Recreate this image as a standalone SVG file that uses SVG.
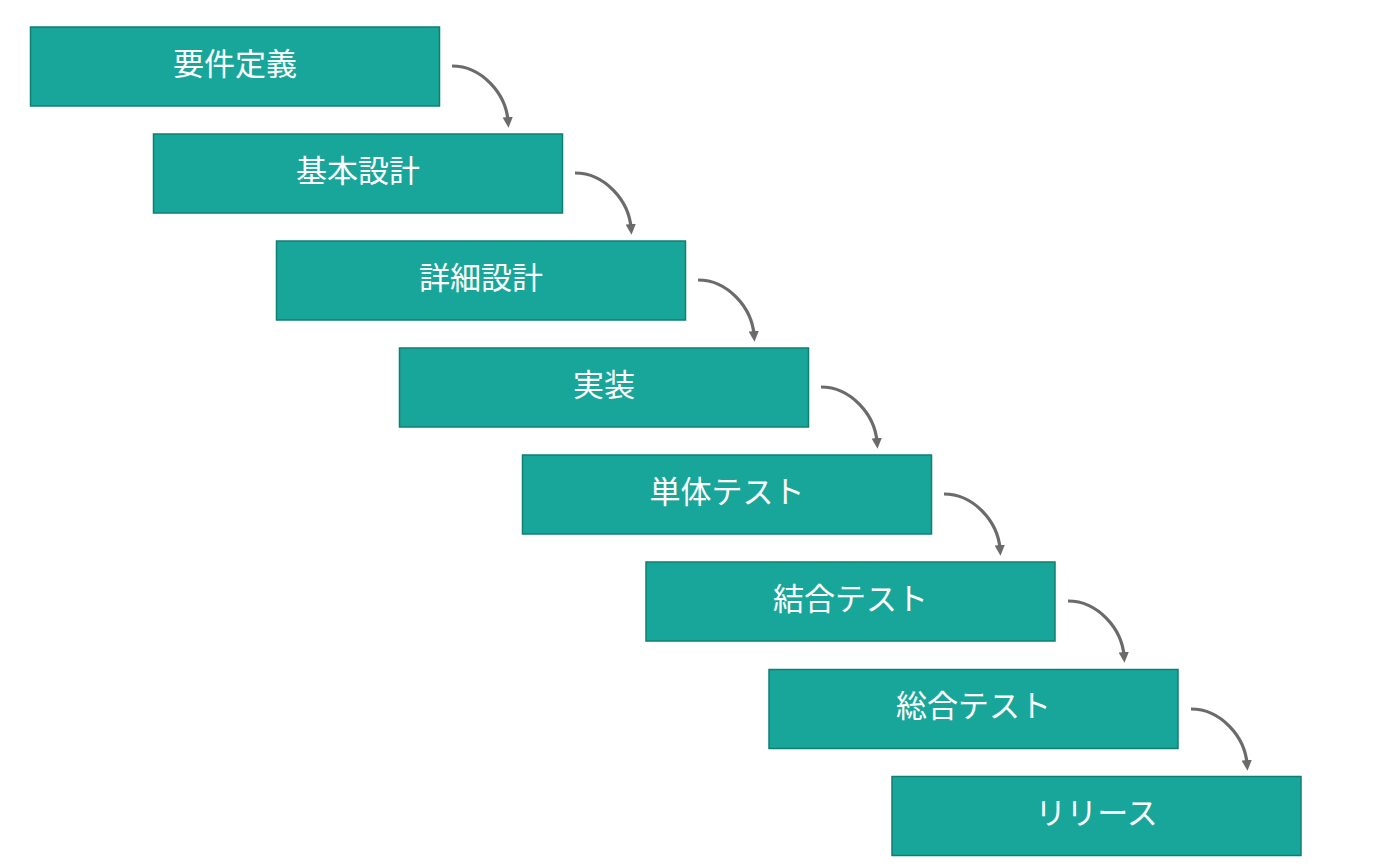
<svg xmlns="http://www.w3.org/2000/svg" width="1400" height="864" viewBox="0 0 1400 864">
<style>
.box{fill:#19A69A;stroke:#0F7F74;stroke-width:1.5}
.lbl{fill:#fff;font-family:"Noto Sans CJK JP","Noto Sans",sans-serif;font-size:31px;text-anchor:middle;dominant-baseline:central}
.arr{fill:none;stroke:#6B6B6B;stroke-width:3.2;marker-end:url(#ah)}
</style>
<defs>
<marker id="ah" markerWidth="4" markerHeight="4" refX="1.2" refY="2" orient="auto" markerUnits="strokeWidth" viewBox="0 0 4 4">
<path d="M0,0.4 L3.3,2 L0,3.6 Z" fill="#6B6B6B"/>
</marker>
</defs>
<rect width="1400" height="864" fill="#fff"/>
<g id="connectors">
<path class="arr" d="M452,66 C482,66 506,94 508,121"/>
<path class="arr" d="M575,173 C605,173 629,201 631,228"/>
<path class="arr" d="M698,280 C728,280 752,308 754,335"/>
<path class="arr" d="M821,387 C851,387 875,415 877,442"/>
<path class="arr" d="M944,494 C974,494 998,522 1000,549"/>
<path class="arr" d="M1068,601 C1098,601 1122,629 1124,656"/>
<path class="arr" d="M1191,709 C1221,709 1245,737 1247,764"/>
</g>
<g id="n1"><rect class="box" x="30.5" y="27" width="409" height="79"/><text class="lbl" x="235" y="61">要件定義</text></g>
<g id="n2"><rect class="box" x="153.5" y="134" width="409" height="79"/><text class="lbl" x="358" y="168">基本設計</text></g>
<g id="n3"><rect class="box" x="276.5" y="241" width="409" height="79"/><text class="lbl" x="481" y="275">詳細設計</text></g>
<g id="n4"><rect class="box" x="399.5" y="348" width="409" height="79"/><text class="lbl" x="604" y="382">実装</text></g>
<g id="n5"><rect class="box" x="522.5" y="455" width="409" height="79"/><text class="lbl" x="727" y="489">単体テスト</text></g>
<g id="n6"><rect class="box" x="646" y="562" width="409" height="79"/><text class="lbl" x="850.5" y="596">結合テスト</text></g>
<g id="n7"><rect class="box" x="769" y="669.5" width="409" height="79"/><text class="lbl" x="973.5" y="703.5">総合テスト</text></g>
<g id="n8"><rect class="box" x="892" y="776.5" width="409" height="79"/><text class="lbl" x="1096.5" y="810.5">リリース</text></g>
</svg>
